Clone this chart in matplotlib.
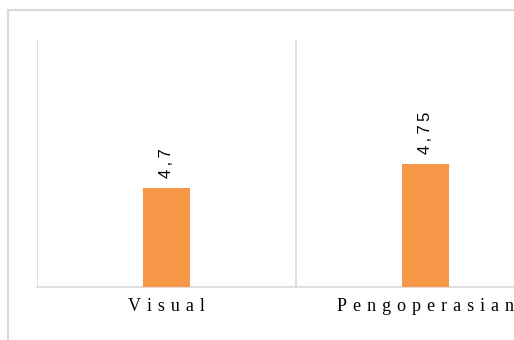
import matplotlib.pyplot as plt

categories = ["Visual", "Pengoperasian"]
values = [4.7, 4.75]
value_labels = ["4,7", "4,75"]

W, H = 514, 340
fig = plt.figure(figsize=(W / 100, H / 100), dpi=100)
plt.rcParams['font.family'] = ['Liberation Serif', 'DejaVu Serif']

# outer chart border (continues past the cropped right/bottom edges)
border = plt.Rectangle((8 / W, -0.1), 1.2, (H - 10) / H + 0.1, transform=fig.transFigure,
                       fill=False, edgecolor="#d9d9d9", linewidth=1.5)
fig.patches.append(border)

# plot area is wider than the picture: third category boundary falls off the right edge
left, right = 37 / W, 555 / W
bottom, top = (H - 287) / H, (H - 40) / H
ax = fig.add_axes([left, bottom, right - left, top - bottom])

x = range(len(categories))
ax.bar(x, [v - 4.5 for v in values], bottom=4.5, width=0.185, color="#F79646", zorder=3)
ax.set_xlim(-0.5, 1.5)
ax.set_ylim(4.5, 5.0)

for b in [-0.5, 0.5, 1.5]:
    ax.axvline(b, color="#d9d9d9", linewidth=1.2, zorder=1)

for s in ["top", "right", "left"]:
    ax.spines[s].set_visible(False)
ax.spines["bottom"].set_color("#d9d9d9")
ax.spines["bottom"].set_linewidth(1.2)
ax.set_yticks([])
ax.set_xticks(list(x))
# letter-spaced category labels
ax.set_xticklabels(["\u2004".join(c) for c in categories], fontsize=13)
ax.tick_params(axis="x", length=0, pad=8)
ax.patch.set_alpha(0)

for i, (v, lab) in enumerate(zip(values, value_labels)):
    ax.annotate("\u2009".join(lab), (i, v), xytext=(0, 10), textcoords="offset pixels",
                rotation=90, ha="center", va="bottom", fontsize=12,
                family=["Liberation Sans", "DejaVu Sans"])

fig.savefig("out.png", dpi=100)
